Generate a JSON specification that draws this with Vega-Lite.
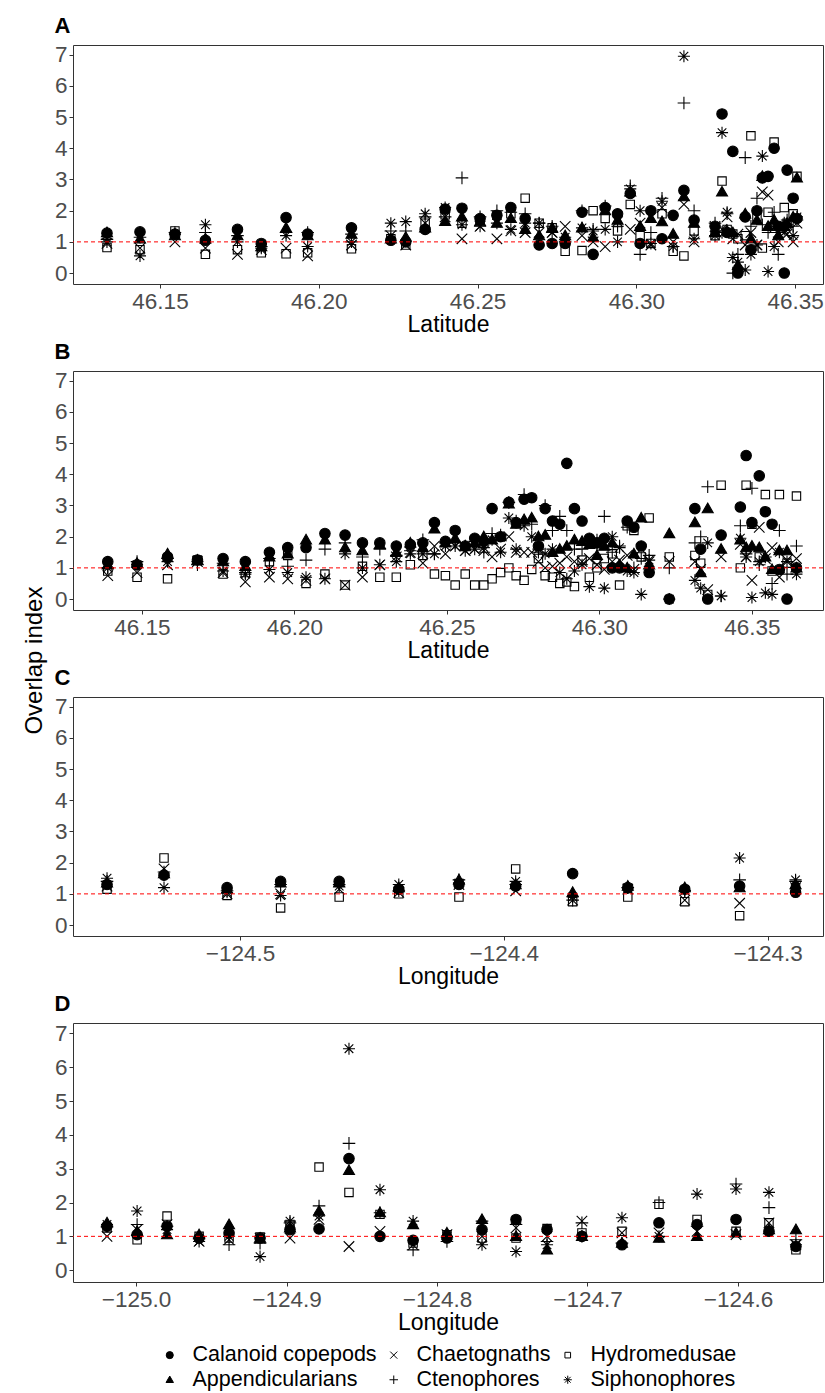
{
"$schema":"https://vega.github.io/schema/vega-lite/v6.json",
"padding":{"left":22,"top":14,"right":2,"bottom":0},
"title":{"text":"Overlap index","orient":"left","anchor":"middle","fontSize":24,"fontWeight":"normal","color":"black","offset":7,"dx":42},
"spacing":3,
"datasets":{
"taxa":[{"k":"C","name":"Calanoid copepods"},{"k":"A","name":"Appendicularians"},{"k":"X","name":"Chaetognaths"},{"k":"P","name":"Ctenophores"},{"k":"H","name":"Hydromedusae"},{"k":"S","name":"Siphonophores"}],
"A":[
{"x":46.1333,"t":"C","y":1.28},{"x":46.1333,"t":"A","y":1.3},{"x":46.1333,"t":"X","y":0.95},{"x":46.1333,"t":"P","y":1.08},{"x":46.1333,"t":"H","y":0.82},{"x":46.1333,"t":"S","y":1.0},
{"x":46.1437,"t":"C","y":1.32},{"x":46.1437,"t":"A","y":1.1},{"x":46.1437,"t":"X","y":0.8},{"x":46.1437,"t":"P","y":1.15},{"x":46.1437,"t":"H","y":0.75},{"x":46.1437,"t":"S","y":0.55},
{"x":46.1547,"t":"C","y":1.25},{"x":46.1547,"t":"A","y":1.2},{"x":46.1547,"t":"X","y":1.0},{"x":46.1547,"t":"P","y":1.3},{"x":46.1547,"t":"H","y":1.35},{"x":46.1547,"t":"S","y":1.25},
{"x":46.1643,"t":"C","y":1.05},{"x":46.1643,"t":"A","y":1.1},{"x":46.1643,"t":"X","y":0.8},{"x":46.1643,"t":"P","y":1.3},{"x":46.1643,"t":"H","y":0.6},{"x":46.1643,"t":"S","y":1.55},
{"x":46.1744,"t":"C","y":1.4},{"x":46.1744,"t":"A","y":1.2},{"x":46.1744,"t":"X","y":0.6},{"x":46.1744,"t":"P","y":1.2},{"x":46.1744,"t":"H","y":0.75},{"x":46.1744,"t":"S","y":1.0},
{"x":46.1819,"t":"C","y":0.95},{"x":46.1819,"t":"A","y":0.85},{"x":46.1819,"t":"X","y":0.75},{"x":46.1819,"t":"P","y":0.85},{"x":46.1819,"t":"H","y":0.65},{"x":46.1819,"t":"S","y":0.8},
{"x":46.1897,"t":"C","y":1.78},{"x":46.1897,"t":"A","y":1.45},{"x":46.1897,"t":"X","y":0.8},{"x":46.1897,"t":"P","y":1.3},{"x":46.1897,"t":"H","y":0.62},{"x":46.1897,"t":"S","y":1.2},
{"x":46.1965,"t":"C","y":1.25},{"x":46.1965,"t":"A","y":1.2},{"x":46.1965,"t":"X","y":0.55},{"x":46.1965,"t":"P","y":1.3},{"x":46.1965,"t":"H","y":0.65},{"x":46.1965,"t":"S","y":0.85},
{"x":46.2103,"t":"C","y":1.45},{"x":46.2103,"t":"A","y":1.25},{"x":46.2103,"t":"X","y":0.9},{"x":46.2103,"t":"P","y":1.25},{"x":46.2103,"t":"H","y":0.78},{"x":46.2103,"t":"S","y":1.0},
{"x":46.2227,"t":"C","y":1.05},{"x":46.2227,"t":"A","y":1.1},{"x":46.2227,"t":"X","y":1.2},{"x":46.2227,"t":"P","y":1.35},{"x":46.2227,"t":"H","y":1.1},{"x":46.2227,"t":"S","y":1.6},
{"x":46.2274,"t":"C","y":1.0},{"x":46.2274,"t":"A","y":1.15},{"x":46.2274,"t":"X","y":0.9},{"x":46.2274,"t":"P","y":1.35},{"x":46.2274,"t":"H","y":0.9},{"x":46.2274,"t":"S","y":1.65},
{"x":46.2335,"t":"C","y":1.4},{"x":46.2335,"t":"A","y":1.45},{"x":46.2335,"t":"X","y":1.6},{"x":46.2335,"t":"P","y":1.8},{"x":46.2335,"t":"H","y":1.6},{"x":46.2335,"t":"S","y":1.9},
{"x":46.2398,"t":"C","y":2.05},{"x":46.2398,"t":"A","y":1.66},{"x":46.2398,"t":"X","y":1.8},{"x":46.2398,"t":"P","y":1.8},{"x":46.2398,"t":"H","y":1.87},{"x":46.2398,"t":"S","y":2.1},
{"x":46.2451,"t":"C","y":2.08},{"x":46.2451,"t":"A","y":1.8},{"x":46.2451,"t":"X","y":1.1},{"x":46.2451,"t":"P","y":3.05},{"x":46.2451,"t":"H","y":1.6},{"x":46.2451,"t":"S","y":1.55},
{"x":46.2508,"t":"C","y":1.75},{"x":46.2508,"t":"A","y":1.65},{"x":46.2508,"t":"X","y":1.5},{"x":46.2508,"t":"P","y":1.8},{"x":46.2508,"t":"H","y":1.7},{"x":46.2508,"t":"S","y":1.5},
{"x":46.2561,"t":"C","y":1.85},{"x":46.2561,"t":"A","y":1.6},{"x":46.2561,"t":"X","y":1.1},{"x":46.2561,"t":"P","y":2.0},{"x":46.2561,"t":"H","y":1.85},{"x":46.2561,"t":"S","y":1.6},
{"x":46.2605,"t":"C","y":2.1},{"x":46.2605,"t":"A","y":1.75},{"x":46.2605,"t":"X","y":1.35},{"x":46.2605,"t":"P","y":1.95},{"x":46.2605,"t":"H","y":1.9},{"x":46.2605,"t":"S","y":1.4},
{"x":46.265,"t":"C","y":1.75},{"x":46.265,"t":"A","y":1.4},{"x":46.265,"t":"X","y":1.3},{"x":46.265,"t":"P","y":1.9},{"x":46.265,"t":"H","y":2.4},{"x":46.265,"t":"S","y":1.6},
{"x":46.2694,"t":"C","y":0.9},{"x":46.2694,"t":"A","y":1.2},{"x":46.2694,"t":"X","y":1.3},{"x":46.2694,"t":"P","y":1.6},{"x":46.2694,"t":"H","y":1.6},{"x":46.2694,"t":"S","y":1.6},
{"x":46.2735,"t":"C","y":0.95},{"x":46.2735,"t":"A","y":1.45},{"x":46.2735,"t":"X","y":1.3},{"x":46.2735,"t":"P","y":1.5},{"x":46.2735,"t":"H","y":1.45},{"x":46.2735,"t":"S","y":1.3},
{"x":46.2776,"t":"C","y":0.95},{"x":46.2776,"t":"A","y":1.2},{"x":46.2776,"t":"X","y":1.5},{"x":46.2776,"t":"P","y":1.0},{"x":46.2776,"t":"H","y":0.7},{"x":46.2776,"t":"S","y":1.15},
{"x":46.2829,"t":"C","y":1.95},{"x":46.2829,"t":"A","y":1.45},{"x":46.2829,"t":"X","y":1.2},{"x":46.2829,"t":"P","y":2.0},{"x":46.2829,"t":"H","y":0.72},{"x":46.2829,"t":"S","y":1.45},
{"x":46.2864,"t":"C","y":0.6},{"x":46.2864,"t":"A","y":1.15},{"x":46.2864,"t":"X","y":1.0},{"x":46.2864,"t":"P","y":1.4},{"x":46.2864,"t":"H","y":2.0},{"x":46.2864,"t":"S","y":1.35},
{"x":46.2902,"t":"C","y":2.1},{"x":46.2902,"t":"A","y":2.0},{"x":46.2902,"t":"X","y":0.85},{"x":46.2902,"t":"P","y":2.15},{"x":46.2902,"t":"H","y":1.75},{"x":46.2902,"t":"S","y":1.4},
{"x":46.2941,"t":"C","y":1.9},{"x":46.2941,"t":"A","y":1.7},{"x":46.2941,"t":"X","y":1.65},{"x":46.2941,"t":"P","y":1.5},{"x":46.2941,"t":"H","y":1.35},{"x":46.2941,"t":"S","y":1.0},
{"x":46.2981,"t":"C","y":2.55},{"x":46.2981,"t":"A","y":2.6},{"x":46.2981,"t":"X","y":1.4},{"x":46.2981,"t":"P","y":2.8},{"x":46.2981,"t":"H","y":2.2},{"x":46.2981,"t":"S","y":2.7},
{"x":46.3012,"t":"C","y":0.95},{"x":46.3012,"t":"A","y":1.5},{"x":46.3012,"t":"X","y":1.6},{"x":46.3012,"t":"P","y":0.6},{"x":46.3012,"t":"H","y":1.2},{"x":46.3012,"t":"S","y":2.0},
{"x":46.3046,"t":"C","y":2.0},{"x":46.3046,"t":"A","y":1.75},{"x":46.3046,"t":"X","y":0.9},{"x":46.3046,"t":"P","y":1.3},{"x":46.3046,"t":"H","y":0.95},{"x":46.3046,"t":"S","y":0.95},
{"x":46.3081,"t":"C","y":1.1},{"x":46.3081,"t":"A","y":1.65},{"x":46.3081,"t":"X","y":2.1},{"x":46.3081,"t":"P","y":2.4},{"x":46.3081,"t":"H","y":1.9},{"x":46.3081,"t":"S","y":2.3},
{"x":46.3116,"t":"C","y":1.85},{"x":46.3116,"t":"A","y":1.25},{"x":46.3116,"t":"X","y":1.0},{"x":46.3116,"t":"P","y":0.85},{"x":46.3116,"t":"H","y":0.7},{"x":46.3116,"t":"S","y":0.85},
{"x":46.315,"t":"C","y":2.65},{"x":46.315,"t":"A","y":2.45},{"x":46.315,"t":"X","y":2.2},{"x":46.315,"t":"P","y":5.45},{"x":46.315,"t":"H","y":0.55},{"x":46.315,"t":"S","y":6.95},
{"x":46.3182,"t":"C","y":1.7},{"x":46.3182,"t":"A","y":1.6},{"x":46.3182,"t":"X","y":1.0},{"x":46.3182,"t":"P","y":2.0},{"x":46.3182,"t":"H","y":1.35},{"x":46.3182,"t":"S","y":1.1},
{"x":46.3248,"t":"C","y":1.5},{"x":46.3248,"t":"A","y":1.3},{"x":46.3248,"t":"X","y":1.5},{"x":46.3248,"t":"P","y":1.6},{"x":46.3248,"t":"H","y":1.2},{"x":46.3248,"t":"S","y":1.2},
{"x":46.327,"t":"C","y":5.1},{"x":46.327,"t":"A","y":2.6},{"x":46.327,"t":"X","y":1.4},{"x":46.327,"t":"P","y":1.3},{"x":46.327,"t":"H","y":2.95},{"x":46.327,"t":"S","y":4.5},
{"x":46.3286,"t":"C","y":1.3},{"x":46.3286,"t":"A","y":1.35},{"x":46.3286,"t":"X","y":1.8},{"x":46.3286,"t":"P","y":1.9},{"x":46.3286,"t":"H","y":1.4},{"x":46.3286,"t":"S","y":1.95},
{"x":46.3304,"t":"C","y":3.9},{"x":46.3304,"t":"A","y":1.3},{"x":46.3304,"t":"X","y":1.1},{"x":46.3304,"t":"P","y":0.0},{"x":46.3304,"t":"H","y":1.25},{"x":46.3304,"t":"S","y":0.5},
{"x":46.332,"t":"C","y":0.0},{"x":46.332,"t":"A","y":0.25},{"x":46.332,"t":"X","y":1.25},{"x":46.332,"t":"P","y":0.6},{"x":46.332,"t":"H","y":1.1},{"x":46.332,"t":"S","y":0.35},
{"x":46.3343,"t":"C","y":1.8},{"x":46.3343,"t":"A","y":1.9},{"x":46.3343,"t":"X","y":0.9},{"x":46.3343,"t":"P","y":3.7},{"x":46.3343,"t":"H","y":1.2},{"x":46.3343,"t":"S","y":0.1},
{"x":46.3361,"t":"C","y":0.75},{"x":46.3361,"t":"A","y":1.1},{"x":46.3361,"t":"X","y":1.3},{"x":46.3361,"t":"P","y":1.5},{"x":46.3361,"t":"H","y":4.4},{"x":46.3361,"t":"S","y":0.6},
{"x":46.338,"t":"C","y":2.0},{"x":46.338,"t":"A","y":1.7},{"x":46.338,"t":"X","y":0.9},{"x":46.338,"t":"P","y":2.4},{"x":46.338,"t":"H","y":1.8},{"x":46.338,"t":"S","y":0.9},
{"x":46.3397,"t":"C","y":3.05},{"x":46.3397,"t":"A","y":3.1},{"x":46.3397,"t":"X","y":2.6},{"x":46.3397,"t":"P","y":1.55},{"x":46.3397,"t":"H","y":0.8},{"x":46.3397,"t":"S","y":3.75},
{"x":46.3415,"t":"C","y":3.1},{"x":46.3415,"t":"A","y":1.5},{"x":46.3415,"t":"X","y":2.5},{"x":46.3415,"t":"P","y":1.3},{"x":46.3415,"t":"H","y":1.95},{"x":46.3415,"t":"S","y":0.05},
{"x":46.3434,"t":"C","y":4.0},{"x":46.3434,"t":"A","y":1.7},{"x":46.3434,"t":"X","y":1.45},{"x":46.3434,"t":"P","y":1.95},{"x":46.3434,"t":"H","y":4.2},{"x":46.3434,"t":"S","y":0.85},
{"x":46.3447,"t":"C","y":1.5},{"x":46.3447,"t":"A","y":1.2},{"x":46.3447,"t":"X","y":1.0},{"x":46.3447,"t":"P","y":0.6},{"x":46.3447,"t":"H","y":1.5},{"x":46.3447,"t":"S","y":1.3},
{"x":46.3466,"t":"C","y":0.0},{"x":46.3466,"t":"A","y":1.5},{"x":46.3466,"t":"X","y":1.3},{"x":46.3466,"t":"P","y":1.6},{"x":46.3466,"t":"H","y":2.1},{"x":46.3466,"t":"S","y":1.4},
{"x":46.3475,"t":"C","y":3.3},{"x":46.3475,"t":"A","y":1.6},{"x":46.3475,"t":"X","y":1.25},{"x":46.3475,"t":"P","y":1.7},{"x":46.3475,"t":"H","y":1.6},{"x":46.3475,"t":"S","y":1.55},
{"x":46.3494,"t":"C","y":2.4},{"x":46.3494,"t":"A","y":1.8},{"x":46.3494,"t":"X","y":1.0},{"x":46.3494,"t":"P","y":1.5},{"x":46.3494,"t":"H","y":1.9},{"x":46.3494,"t":"S","y":1.2},
{"x":46.3506,"t":"C","y":1.75},{"x":46.3506,"t":"A","y":3.05},{"x":46.3506,"t":"X","y":1.6},{"x":46.3506,"t":"P","y":1.7},{"x":46.3506,"t":"H","y":3.1},{"x":46.3506,"t":"S","y":1.8}
],
"B":[
{"x":46.1388,"t":"C","y":1.2},{"x":46.1388,"t":"A","y":1.1},{"x":46.1388,"t":"X","y":0.75},{"x":46.1388,"t":"P","y":1.0},{"x":46.1388,"t":"H","y":0.9},{"x":46.1388,"t":"S","y":1.0},
{"x":46.1484,"t":"C","y":1.1},{"x":46.1484,"t":"A","y":1.15},{"x":46.1484,"t":"X","y":0.85},{"x":46.1484,"t":"P","y":1.2},{"x":46.1484,"t":"H","y":0.7},{"x":46.1484,"t":"S","y":1.1},
{"x":46.1584,"t":"C","y":1.35},{"x":46.1584,"t":"A","y":1.45},{"x":46.1584,"t":"X","y":1.1},{"x":46.1584,"t":"P","y":1.3},{"x":46.1584,"t":"H","y":0.65},{"x":46.1584,"t":"S","y":1.2},
{"x":46.1682,"t":"C","y":1.25},{"x":46.1682,"t":"A","y":1.25},{"x":46.1682,"t":"X","y":1.2},{"x":46.1682,"t":"P","y":1.1},{"x":46.1682,"t":"H","y":1.25},{"x":46.1682,"t":"S","y":1.2},
{"x":46.1766,"t":"C","y":1.3},{"x":46.1766,"t":"A","y":1.2},{"x":46.1766,"t":"X","y":0.85},{"x":46.1766,"t":"P","y":1.15},{"x":46.1766,"t":"H","y":0.8},{"x":46.1766,"t":"S","y":0.9},
{"x":46.1839,"t":"C","y":1.2},{"x":46.1839,"t":"A","y":1.05},{"x":46.1839,"t":"X","y":0.55},{"x":46.1839,"t":"P","y":0.85},{"x":46.1839,"t":"H","y":0.85},{"x":46.1839,"t":"S","y":0.8},
{"x":46.1918,"t":"C","y":1.5},{"x":46.1918,"t":"A","y":1.35},{"x":46.1918,"t":"X","y":0.7},{"x":46.1918,"t":"P","y":1.3},{"x":46.1918,"t":"H","y":1.2},{"x":46.1918,"t":"S","y":0.95},
{"x":46.1978,"t":"C","y":1.65},{"x":46.1978,"t":"A","y":1.45},{"x":46.1978,"t":"X","y":0.65},{"x":46.1978,"t":"P","y":1.05},{"x":46.1978,"t":"H","y":1.4},{"x":46.1978,"t":"S","y":0.85},
{"x":46.2038,"t":"C","y":1.65},{"x":46.2038,"t":"A","y":1.9},{"x":46.2038,"t":"X","y":0.6},{"x":46.2038,"t":"P","y":1.25},{"x":46.2038,"t":"H","y":0.5},{"x":46.2038,"t":"S","y":0.7},
{"x":46.21,"t":"C","y":2.1},{"x":46.21,"t":"A","y":1.9},{"x":46.21,"t":"X","y":0.65},{"x":46.21,"t":"P","y":1.6},{"x":46.21,"t":"H","y":0.8},{"x":46.21,"t":"S","y":0.65},
{"x":46.2166,"t":"C","y":2.05},{"x":46.2166,"t":"A","y":1.65},{"x":46.2166,"t":"X","y":0.45},{"x":46.2166,"t":"P","y":1.8},{"x":46.2166,"t":"H","y":0.45},{"x":46.2166,"t":"S","y":1.45},
{"x":46.2223,"t":"C","y":1.8},{"x":46.2223,"t":"A","y":1.55},{"x":46.2223,"t":"X","y":0.7},{"x":46.2223,"t":"P","y":1.35},{"x":46.2223,"t":"H","y":1.05},{"x":46.2223,"t":"S","y":1.0},
{"x":46.228,"t":"C","y":1.8},{"x":46.228,"t":"A","y":1.75},{"x":46.228,"t":"X","y":1.1},{"x":46.228,"t":"P","y":1.6},{"x":46.228,"t":"H","y":0.7},{"x":46.228,"t":"S","y":1.1},
{"x":46.2334,"t":"C","y":1.7},{"x":46.2334,"t":"A","y":1.5},{"x":46.2334,"t":"X","y":1.35},{"x":46.2334,"t":"P","y":1.4},{"x":46.2334,"t":"H","y":0.7},{"x":46.2334,"t":"S","y":1.2},
{"x":46.238,"t":"C","y":1.75},{"x":46.238,"t":"A","y":1.8},{"x":46.238,"t":"X","y":1.5},{"x":46.238,"t":"P","y":1.55},{"x":46.238,"t":"H","y":1.1},{"x":46.238,"t":"S","y":1.45},
{"x":46.2421,"t":"C","y":1.8},{"x":46.2421,"t":"A","y":1.65},{"x":46.2421,"t":"X","y":1.15},{"x":46.2421,"t":"P","y":1.9},{"x":46.2421,"t":"H","y":1.4},{"x":46.2421,"t":"S","y":1.45},
{"x":46.2459,"t":"C","y":2.45},{"x":46.2459,"t":"A","y":2.25},{"x":46.2459,"t":"X","y":1.7},{"x":46.2459,"t":"P","y":1.45},{"x":46.2459,"t":"H","y":0.8},{"x":46.2459,"t":"S","y":1.45},
{"x":46.2495,"t":"C","y":1.85},{"x":46.2495,"t":"A","y":1.8},{"x":46.2495,"t":"X","y":1.45},{"x":46.2495,"t":"P","y":1.8},{"x":46.2495,"t":"H","y":0.75},{"x":46.2495,"t":"S","y":1.7},
{"x":46.2527,"t":"C","y":2.2},{"x":46.2527,"t":"A","y":1.95},{"x":46.2527,"t":"X","y":1.7},{"x":46.2527,"t":"P","y":1.8},{"x":46.2527,"t":"H","y":0.45},{"x":46.2527,"t":"S","y":1.7},
{"x":46.256,"t":"C","y":1.7},{"x":46.256,"t":"A","y":1.7},{"x":46.256,"t":"X","y":1.55},{"x":46.256,"t":"P","y":1.7},{"x":46.256,"t":"H","y":0.8},{"x":46.256,"t":"S","y":1.55},
{"x":46.2591,"t":"C","y":1.95},{"x":46.2591,"t":"A","y":1.8},{"x":46.2591,"t":"X","y":1.6},{"x":46.2591,"t":"P","y":1.85},{"x":46.2591,"t":"H","y":0.45},{"x":46.2591,"t":"S","y":1.6},
{"x":46.2621,"t":"C","y":1.85},{"x":46.2621,"t":"A","y":2.0},{"x":46.2621,"t":"X","y":1.55},{"x":46.2621,"t":"P","y":1.5},{"x":46.2621,"t":"H","y":0.45},{"x":46.2621,"t":"S","y":1.65},
{"x":46.2648,"t":"C","y":2.9},{"x":46.2648,"t":"A","y":1.9},{"x":46.2648,"t":"X","y":1.35},{"x":46.2648,"t":"P","y":2.1},{"x":46.2648,"t":"H","y":0.65},{"x":46.2648,"t":"S","y":1.9},
{"x":46.2676,"t":"C","y":2.0},{"x":46.2676,"t":"A","y":2.0},{"x":46.2676,"t":"X","y":1.6},{"x":46.2676,"t":"P","y":2.05},{"x":46.2676,"t":"H","y":0.85},{"x":46.2676,"t":"S","y":1.5},
{"x":46.2703,"t":"C","y":3.1},{"x":46.2703,"t":"A","y":3.05},{"x":46.2703,"t":"X","y":2.0},{"x":46.2703,"t":"P","y":3.1},{"x":46.2703,"t":"H","y":1.0},{"x":46.2703,"t":"S","y":2.6},
{"x":46.2727,"t":"C","y":2.45},{"x":46.2727,"t":"A","y":2.4},{"x":46.2727,"t":"X","y":1.5},{"x":46.2727,"t":"P","y":2.5},{"x":46.2727,"t":"H","y":0.75},{"x":46.2727,"t":"S","y":1.6},
{"x":46.2753,"t":"C","y":3.2},{"x":46.2753,"t":"A","y":2.55},{"x":46.2753,"t":"X","y":1.5},{"x":46.2753,"t":"P","y":3.35},{"x":46.2753,"t":"H","y":0.6},{"x":46.2753,"t":"S","y":2.35},
{"x":46.2778,"t":"C","y":3.25},{"x":46.2778,"t":"A","y":2.6},{"x":46.2778,"t":"X","y":1.5},{"x":46.2778,"t":"P","y":2.4},{"x":46.2778,"t":"H","y":0.95},{"x":46.2778,"t":"S","y":2.0},
{"x":46.28,"t":"C","y":1.7},{"x":46.28,"t":"A","y":2.0},{"x":46.28,"t":"X","y":1.2},{"x":46.28,"t":"P","y":1.5},{"x":46.28,"t":"H","y":1.3},{"x":46.28,"t":"S","y":1.6},
{"x":46.2822,"t":"C","y":2.9},{"x":46.2822,"t":"A","y":2.05},{"x":46.2822,"t":"X","y":1.0},{"x":46.2822,"t":"P","y":3.0},{"x":46.2822,"t":"H","y":0.75},{"x":46.2822,"t":"S","y":1.45},
{"x":46.2846,"t":"C","y":2.5},{"x":46.2846,"t":"A","y":1.5},{"x":46.2846,"t":"X","y":1.05},{"x":46.2846,"t":"P","y":2.2},{"x":46.2846,"t":"H","y":0.7},{"x":46.2846,"t":"S","y":1.6},
{"x":46.287,"t":"C","y":2.4},{"x":46.287,"t":"A","y":1.6},{"x":46.287,"t":"X","y":1.15},{"x":46.287,"t":"P","y":2.65},{"x":46.287,"t":"H","y":0.5},{"x":46.287,"t":"S","y":0.85},
{"x":46.2893,"t":"C","y":4.35},{"x":46.2893,"t":"A","y":1.7},{"x":46.2893,"t":"X","y":1.35},{"x":46.2893,"t":"P","y":2.2},{"x":46.2893,"t":"H","y":0.55},{"x":46.2893,"t":"S","y":0.65},
{"x":46.2918,"t":"C","y":2.9},{"x":46.2918,"t":"A","y":1.9},{"x":46.2918,"t":"X","y":1.2},{"x":46.2918,"t":"P","y":1.6},{"x":46.2918,"t":"H","y":0.4},{"x":46.2918,"t":"S","y":0.9},
{"x":46.2943,"t":"C","y":2.5},{"x":46.2943,"t":"A","y":1.85},{"x":46.2943,"t":"X","y":1.2},{"x":46.2943,"t":"P","y":1.6},{"x":46.2943,"t":"H","y":1.25},{"x":46.2943,"t":"S","y":1.1},
{"x":46.2967,"t":"C","y":1.95},{"x":46.2967,"t":"A","y":1.75},{"x":46.2967,"t":"X","y":1.3},{"x":46.2967,"t":"P","y":1.9},{"x":46.2967,"t":"H","y":0.7},{"x":46.2967,"t":"S","y":0.4},
{"x":46.2992,"t":"C","y":1.8},{"x":46.2992,"t":"A","y":1.4},{"x":46.2992,"t":"X","y":1.1},{"x":46.2992,"t":"P","y":1.7},{"x":46.2992,"t":"H","y":1.0},{"x":46.2992,"t":"S","y":1.9},
{"x":46.3016,"t":"C","y":1.95},{"x":46.3016,"t":"A","y":1.7},{"x":46.3016,"t":"X","y":0.95},{"x":46.3016,"t":"P","y":2.65},{"x":46.3016,"t":"H","y":1.3},{"x":46.3016,"t":"S","y":0.35},
{"x":46.3042,"t":"C","y":1.0},{"x":46.3042,"t":"A","y":1.8},{"x":46.3042,"t":"X","y":1.2},{"x":46.3042,"t":"P","y":1.5},{"x":46.3042,"t":"H","y":1.45},{"x":46.3042,"t":"S","y":2.0},
{"x":46.3066,"t":"C","y":1.0},{"x":46.3066,"t":"A","y":1.1},{"x":46.3066,"t":"X","y":1.25},{"x":46.3066,"t":"P","y":1.7},{"x":46.3066,"t":"H","y":0.45},{"x":46.3066,"t":"S","y":1.65},
{"x":46.3091,"t":"C","y":2.5},{"x":46.3091,"t":"A","y":1.0},{"x":46.3091,"t":"X","y":1.4},{"x":46.3091,"t":"P","y":2.3},{"x":46.3091,"t":"H","y":2.35},{"x":46.3091,"t":"S","y":0.9},
{"x":46.3113,"t":"C","y":2.3},{"x":46.3113,"t":"A","y":1.45},{"x":46.3113,"t":"X","y":0.95},{"x":46.3113,"t":"P","y":1.0},{"x":46.3113,"t":"H","y":2.2},{"x":46.3113,"t":"S","y":0.85},
{"x":46.3137,"t":"C","y":1.7},{"x":46.3137,"t":"A","y":2.6},{"x":46.3137,"t":"X","y":1.6},{"x":46.3137,"t":"P","y":1.3},{"x":46.3137,"t":"H","y":1.35},{"x":46.3137,"t":"S","y":0.15},
{"x":46.3163,"t":"C","y":0.85},{"x":46.3163,"t":"A","y":1.1},{"x":46.3163,"t":"X","y":1.2},{"x":46.3163,"t":"P","y":1.4},{"x":46.3163,"t":"H","y":2.6},{"x":46.3163,"t":"S","y":1.25},
{"x":46.3229,"t":"C","y":0.0},{"x":46.3229,"t":"A","y":2.1},{"x":46.3229,"t":"X","y":1.2},{"x":46.3229,"t":"P","y":1.0},{"x":46.3229,"t":"H","y":1.35},{"x":46.3229,"t":"S","y":0.0},
{"x":46.3313,"t":"C","y":2.9},{"x":46.3313,"t":"A","y":2.45},{"x":46.3313,"t":"X","y":1.2},{"x":46.3313,"t":"P","y":1.8},{"x":46.3313,"t":"H","y":1.4},{"x":46.3313,"t":"S","y":0.6},
{"x":46.3332,"t":"C","y":1.6},{"x":46.3332,"t":"A","y":0.85},{"x":46.3332,"t":"X","y":0.95},{"x":46.3332,"t":"P","y":2.0},{"x":46.3332,"t":"H","y":1.15},{"x":46.3332,"t":"S","y":0.35},
{"x":46.3355,"t":"C","y":0.0},{"x":46.3355,"t":"A","y":2.9},{"x":46.3355,"t":"X","y":0.3},{"x":46.3355,"t":"P","y":3.6},{"x":46.3355,"t":"H","y":0.15},{"x":46.3355,"t":"S","y":1.8},
{"x":46.3399,"t":"C","y":2.05},{"x":46.3399,"t":"A","y":1.6},{"x":46.3399,"t":"X","y":1.35},{"x":46.3399,"t":"P","y":0.1},{"x":46.3399,"t":"H","y":3.65},{"x":46.3399,"t":"S","y":0.1},
{"x":46.3462,"t":"C","y":2.95},{"x":46.3462,"t":"A","y":1.9},{"x":46.3462,"t":"X","y":1.75},{"x":46.3462,"t":"P","y":2.35},{"x":46.3462,"t":"H","y":1.0},{"x":46.3462,"t":"S","y":1.95},
{"x":46.3481,"t":"C","y":4.6},{"x":46.3481,"t":"A","y":1.65},{"x":46.3481,"t":"X","y":1.35},{"x":46.3481,"t":"P","y":1.45},{"x":46.3481,"t":"H","y":3.65},{"x":46.3481,"t":"S","y":1.35},
{"x":46.35,"t":"C","y":2.45},{"x":46.35,"t":"A","y":1.7},{"x":46.35,"t":"X","y":0.6},{"x":46.35,"t":"P","y":3.55},{"x":46.35,"t":"H","y":2.4},{"x":46.35,"t":"S","y":0.05},
{"x":46.3524,"t":"C","y":3.95},{"x":46.3524,"t":"A","y":1.65},{"x":46.3524,"t":"X","y":2.3},{"x":46.3524,"t":"P","y":1.1},{"x":46.3524,"t":"H","y":1.35},{"x":46.3524,"t":"S","y":1.2},
{"x":46.3544,"t":"C","y":2.8},{"x":46.3544,"t":"A","y":1.35},{"x":46.3544,"t":"X","y":1.3},{"x":46.3544,"t":"P","y":1.35},{"x":46.3544,"t":"H","y":3.35},{"x":46.3544,"t":"S","y":0.2},
{"x":46.3566,"t":"C","y":2.4},{"x":46.3566,"t":"A","y":0.95},{"x":46.3566,"t":"X","y":1.65},{"x":46.3566,"t":"P","y":0.5},{"x":46.3566,"t":"H","y":0.9},{"x":46.3566,"t":"S","y":0.15},
{"x":46.359,"t":"C","y":0.95},{"x":46.359,"t":"A","y":1.55},{"x":46.359,"t":"X","y":0.7},{"x":46.359,"t":"P","y":2.2},{"x":46.359,"t":"H","y":3.35},{"x":46.359,"t":"S","y":1.5},
{"x":46.3615,"t":"C","y":0.0},{"x":46.3615,"t":"A","y":1.55},{"x":46.3615,"t":"X","y":1.25},{"x":46.3615,"t":"P","y":0.8},{"x":46.3615,"t":"H","y":1.15},{"x":46.3615,"t":"S","y":1.2},
{"x":46.3646,"t":"C","y":1.0},{"x":46.3646,"t":"A","y":1.0},{"x":46.3646,"t":"X","y":1.3},{"x":46.3646,"t":"P","y":1.7},{"x":46.3646,"t":"H","y":3.3},{"x":46.3646,"t":"S","y":0.8}
],
"C":[
{"x":-124.5504,"t":"C","y":1.3},{"x":-124.5504,"t":"A","y":1.35},{"x":-124.5504,"t":"X","y":1.25},{"x":-124.5504,"t":"P","y":1.4},{"x":-124.5504,"t":"H","y":1.15},{"x":-124.5504,"t":"S","y":1.5},
{"x":-124.5288,"t":"C","y":1.6},{"x":-124.5288,"t":"A","y":1.65},{"x":-124.5288,"t":"X","y":1.8},{"x":-124.5288,"t":"P","y":1.7},{"x":-124.5288,"t":"H","y":2.15},{"x":-124.5288,"t":"S","y":1.2},
{"x":-124.5049,"t":"C","y":1.2},{"x":-124.5049,"t":"A","y":1.15},{"x":-124.5049,"t":"X","y":1.0},{"x":-124.5049,"t":"P","y":1.1},{"x":-124.5049,"t":"H","y":0.95},{"x":-124.5049,"t":"S","y":1.05},
{"x":-124.4846,"t":"C","y":1.4},{"x":-124.4846,"t":"A","y":1.35},{"x":-124.4846,"t":"X","y":1.0},{"x":-124.4846,"t":"P","y":1.3},{"x":-124.4846,"t":"H","y":0.55},{"x":-124.4846,"t":"S","y":0.95},
{"x":-124.4624,"t":"C","y":1.4},{"x":-124.4624,"t":"A","y":1.35},{"x":-124.4624,"t":"X","y":1.15},{"x":-124.4624,"t":"P","y":1.3},{"x":-124.4624,"t":"H","y":0.9},{"x":-124.4624,"t":"S","y":1.25},
{"x":-124.4398,"t":"C","y":1.15},{"x":-124.4398,"t":"A","y":1.2},{"x":-124.4398,"t":"X","y":1.05},{"x":-124.4398,"t":"P","y":1.1},{"x":-124.4398,"t":"H","y":1.0},{"x":-124.4398,"t":"S","y":1.3},
{"x":-124.417,"t":"C","y":1.3},{"x":-124.417,"t":"A","y":1.45},{"x":-124.417,"t":"X","y":1.3},{"x":-124.417,"t":"P","y":1.45},{"x":-124.417,"t":"H","y":0.9},{"x":-124.417,"t":"S","y":1.35},
{"x":-124.3955,"t":"C","y":1.25},{"x":-124.3955,"t":"A","y":1.3},{"x":-124.3955,"t":"X","y":1.1},{"x":-124.3955,"t":"P","y":1.3},{"x":-124.3955,"t":"H","y":1.8},{"x":-124.3955,"t":"S","y":1.4},
{"x":-124.3739,"t":"C","y":1.65},{"x":-124.3739,"t":"A","y":1.05},{"x":-124.3739,"t":"X","y":0.8},{"x":-124.3739,"t":"P","y":0.8},{"x":-124.3739,"t":"H","y":0.75},{"x":-124.3739,"t":"S","y":0.9},
{"x":-124.353,"t":"C","y":1.2},{"x":-124.353,"t":"A","y":1.25},{"x":-124.353,"t":"X","y":1.15},{"x":-124.353,"t":"P","y":1.2},{"x":-124.353,"t":"H","y":0.9},{"x":-124.353,"t":"S","y":1.2},
{"x":-124.3314,"t":"C","y":1.15},{"x":-124.3314,"t":"A","y":1.2},{"x":-124.3314,"t":"X","y":0.8},{"x":-124.3314,"t":"P","y":1.1},{"x":-124.3314,"t":"H","y":0.75},{"x":-124.3314,"t":"S","y":1.1},
{"x":-124.3106,"t":"C","y":1.25},{"x":-124.3106,"t":"A","y":1.2},{"x":-124.3106,"t":"X","y":0.7},{"x":-124.3106,"t":"P","y":1.45},{"x":-124.3106,"t":"H","y":0.3},{"x":-124.3106,"t":"S","y":2.15},
{"x":-124.2894,"t":"C","y":1.05},{"x":-124.2894,"t":"A","y":1.3},{"x":-124.2894,"t":"X","y":1.2},{"x":-124.2894,"t":"P","y":1.4},{"x":-124.2894,"t":"H","y":1.2},{"x":-124.2894,"t":"S","y":1.45}
],
"D":[
{"x":-125.0193,"t":"C","y":1.3},{"x":-125.0193,"t":"A","y":1.4},{"x":-125.0193,"t":"X","y":1.0},{"x":-125.0193,"t":"P","y":1.3},{"x":-125.0193,"t":"H","y":1.25},{"x":-125.0193,"t":"S","y":1.35},
{"x":-124.9993,"t":"C","y":1.05},{"x":-124.9993,"t":"A","y":1.15},{"x":-124.9993,"t":"X","y":1.2},{"x":-124.9993,"t":"P","y":1.35},{"x":-124.9993,"t":"H","y":0.9},{"x":-124.9993,"t":"S","y":1.75},
{"x":-124.9794,"t":"C","y":1.3},{"x":-124.9794,"t":"A","y":1.05},{"x":-124.9794,"t":"X","y":1.35},{"x":-124.9794,"t":"P","y":1.3},{"x":-124.9794,"t":"H","y":1.6},{"x":-124.9794,"t":"S","y":1.2},
{"x":-124.9581,"t":"C","y":0.95},{"x":-124.9581,"t":"A","y":1.05},{"x":-124.9581,"t":"X","y":0.85},{"x":-124.9581,"t":"P","y":0.95},{"x":-124.9581,"t":"H","y":1.0},{"x":-124.9581,"t":"S","y":0.85},
{"x":-124.9382,"t":"C","y":1.1},{"x":-124.9382,"t":"A","y":1.35},{"x":-124.9382,"t":"X","y":0.9},{"x":-124.9382,"t":"P","y":0.75},{"x":-124.9382,"t":"H","y":0.95},{"x":-124.9382,"t":"S","y":1.0},
{"x":-124.9176,"t":"C","y":0.95},{"x":-124.9176,"t":"A","y":0.95},{"x":-124.9176,"t":"X","y":0.95},{"x":-124.9176,"t":"P","y":0.8},{"x":-124.9176,"t":"H","y":0.98},{"x":-124.9176,"t":"S","y":0.4},
{"x":-124.8977,"t":"C","y":1.2},{"x":-124.8977,"t":"A","y":1.25},{"x":-124.8977,"t":"X","y":0.95},{"x":-124.8977,"t":"P","y":1.4},{"x":-124.8977,"t":"H","y":1.35},{"x":-124.8977,"t":"S","y":1.45},
{"x":-124.8784,"t":"C","y":1.22},{"x":-124.8784,"t":"A","y":1.75},{"x":-124.8784,"t":"X","y":1.5},{"x":-124.8784,"t":"P","y":1.9},{"x":-124.8784,"t":"H","y":3.05},{"x":-124.8784,"t":"S","y":1.6},
{"x":-124.8585,"t":"C","y":3.3},{"x":-124.8585,"t":"A","y":2.95},{"x":-124.8585,"t":"X","y":0.7},{"x":-124.8585,"t":"P","y":3.75},{"x":-124.8585,"t":"H","y":2.3},{"x":-124.8585,"t":"S","y":6.55},
{"x":-124.8379,"t":"C","y":1.0},{"x":-124.8379,"t":"A","y":1.7},{"x":-124.8379,"t":"X","y":1.15},{"x":-124.8379,"t":"P","y":1.7},{"x":-124.8379,"t":"H","y":1.65},{"x":-124.8379,"t":"S","y":2.38},
{"x":-124.8159,"t":"C","y":0.88},{"x":-124.8159,"t":"A","y":1.35},{"x":-124.8159,"t":"X","y":0.75},{"x":-124.8159,"t":"P","y":0.6},{"x":-124.8159,"t":"H","y":0.8},{"x":-124.8159,"t":"S","y":1.45},
{"x":-124.7934,"t":"C","y":0.95},{"x":-124.7934,"t":"A","y":1.1},{"x":-124.7934,"t":"X","y":1.05},{"x":-124.7934,"t":"P","y":0.85},{"x":-124.7934,"t":"H","y":1.05},{"x":-124.7934,"t":"S","y":1.0},
{"x":-124.7701,"t":"C","y":1.2},{"x":-124.7701,"t":"A","y":1.5},{"x":-124.7701,"t":"X","y":1.0},{"x":-124.7701,"t":"P","y":1.45},{"x":-124.7701,"t":"H","y":0.95},{"x":-124.7701,"t":"S","y":0.75},
{"x":-124.7475,"t":"C","y":1.5},{"x":-124.7475,"t":"A","y":1.0},{"x":-124.7475,"t":"X","y":1.25},{"x":-124.7475,"t":"P","y":1.35},{"x":-124.7475,"t":"H","y":0.95},{"x":-124.7475,"t":"S","y":0.55},
{"x":-124.7269,"t":"C","y":1.2},{"x":-124.7269,"t":"A","y":0.6},{"x":-124.7269,"t":"X","y":1.0},{"x":-124.7269,"t":"P","y":0.85},{"x":-124.7269,"t":"H","y":1.23},{"x":-124.7269,"t":"S","y":0.75},
{"x":-124.7037,"t":"C","y":1.0},{"x":-124.7037,"t":"A","y":1.0},{"x":-124.7037,"t":"X","y":1.45},{"x":-124.7037,"t":"P","y":1.4},{"x":-124.7037,"t":"H","y":1.1},{"x":-124.7037,"t":"S","y":1.0},
{"x":-124.6771,"t":"C","y":0.75},{"x":-124.6771,"t":"A","y":0.8},{"x":-124.6771,"t":"X","y":1.1},{"x":-124.6771,"t":"P","y":0.8},{"x":-124.6771,"t":"H","y":1.15},{"x":-124.6771,"t":"S","y":1.55},
{"x":-124.6525,"t":"C","y":1.4},{"x":-124.6525,"t":"A","y":0.95},{"x":-124.6525,"t":"X","y":1.1},{"x":-124.6525,"t":"P","y":2.0},{"x":-124.6525,"t":"H","y":1.95},{"x":-124.6525,"t":"S","y":1.0},
{"x":-124.6272,"t":"C","y":1.35},{"x":-124.6272,"t":"A","y":1.0},{"x":-124.6272,"t":"X","y":1.15},{"x":-124.6272,"t":"P","y":1.3},{"x":-124.6272,"t":"H","y":1.5},{"x":-124.6272,"t":"S","y":2.25},
{"x":-124.6013,"t":"C","y":1.5},{"x":-124.6013,"t":"A","y":1.1},{"x":-124.6013,"t":"X","y":1.05},{"x":-124.6013,"t":"P","y":2.55},{"x":-124.6013,"t":"H","y":1.15},{"x":-124.6013,"t":"S","y":2.4},
{"x":-124.5794,"t":"C","y":1.15},{"x":-124.5794,"t":"A","y":1.2},{"x":-124.5794,"t":"X","y":1.4},{"x":-124.5794,"t":"P","y":1.85},{"x":-124.5794,"t":"H","y":1.4},{"x":-124.5794,"t":"S","y":2.3},
{"x":-124.5615,"t":"C","y":0.7},{"x":-124.5615,"t":"A","y":1.2},{"x":-124.5615,"t":"X","y":0.75},{"x":-124.5615,"t":"P","y":0.9},{"x":-124.5615,"t":"H","y":0.6},{"x":-124.5615,"t":"S","y":0.75}
]
},
"vconcat":[
{"title":{"text":"A"},"width":750,"height":239,
 "layer":[
  {"data":{"name":"A"},"transform":[{"lookup":"t","from":{"data":{"name":"taxa"},"key":"k","fields":["name"]}}],
   "mark":{"type":"point","stroke":"black","strokeWidth":1.1,"opacity":1,"size":110},
   "encoding":{
    "x":{"field":"x","type":"quantitative","scale":{"domain":[46.1226,46.3588],"nice":false,"zero":false},"axis":{"values":[46.15,46.2,46.25,46.3,46.35],"format":".2f","title":"Latitude"}},
    "y":{"field":"y","type":"quantitative","scale":{"domain":[-0.35,7.31],"nice":false},"axis":{"values":[0,1,2,3,4,5,6,7],"tickCount":8,"labelOverlap":false,"format":"d","title":null}},
    "shape":{"field":"name","type":"nominal","scale":{"domain":["Calanoid copepods","Chaetognaths","Hydromedusae","Appendicularians","Ctenophores","Siphonophores"],"range":["circle","M-1,-1L1,1M-1,1L1,-1","M-0.8,-0.8H0.8V0.8H-0.8Z","M0,-1.05L1.05,0.78L-1.05,0.78Z","M-1.2,0H1.2M0,-1.2V1.2","M-1.15,0H1.15M0,-1.15V1.15M-0.82,-0.82L0.82,0.82M-0.82,0.82L0.82,-0.82"]},"legend":{"title":null,"orient":"bottom","direction":"horizontal","columns":3,"encode":{"symbols":{"update":{"stroke":{"value":"black"},"strokeWidth":{"value":1}}}}}},
    "fill":{"field":"name","type":"nominal","scale":{"domain":["Calanoid copepods","Chaetognaths","Hydromedusae","Appendicularians","Ctenophores","Siphonophores"],"range":["black","transparent","transparent","black","transparent","transparent"]},"legend":{"title":null,"orient":"bottom","direction":"horizontal","columns":3,"encode":{"symbols":{"update":{"stroke":{"value":"black"},"strokeWidth":{"value":1}}}}}}
   }},
  {"data":{"values":[{}]},"mark":{"type":"rule","color":"red","strokeDash":[4,3],"strokeWidth":1},"encoding":{"y":{"datum":1,"type":"quantitative","axis":{"values":[0,1,2,3,4,5,6,7],"tickCount":8,"labelOverlap":false,"format":"d","title":null}}}}
 ]},
{"title":{"text":"B"},"width":750,"height":239,
 "layer":[
  {"data":{"name":"B"},"transform":[{"lookup":"t","from":{"data":{"name":"taxa"},"key":"k","fields":["name"]}}],
   "mark":{"type":"point","stroke":"black","strokeWidth":1.1,"opacity":1,"size":110},
   "encoding":{
    "x":{"field":"x","type":"quantitative","scale":{"domain":[46.1274,46.3733],"nice":false,"zero":false},"axis":{"values":[46.15,46.2,46.25,46.3,46.35],"format":".2f","title":"Latitude"}},
    "y":{"field":"y","type":"quantitative","scale":{"domain":[-0.35,7.31],"nice":false},"axis":{"values":[0,1,2,3,4,5,6,7],"tickCount":8,"labelOverlap":false,"format":"d","title":null}},
    "shape":{"field":"name","type":"nominal","scale":{"domain":["Calanoid copepods","Chaetognaths","Hydromedusae","Appendicularians","Ctenophores","Siphonophores"],"range":["circle","M-1,-1L1,1M-1,1L1,-1","M-0.8,-0.8H0.8V0.8H-0.8Z","M0,-1.05L1.05,0.78L-1.05,0.78Z","M-1.2,0H1.2M0,-1.2V1.2","M-1.15,0H1.15M0,-1.15V1.15M-0.82,-0.82L0.82,0.82M-0.82,0.82L0.82,-0.82"]},"legend":{"title":null,"orient":"bottom","direction":"horizontal","columns":3,"encode":{"symbols":{"update":{"stroke":{"value":"black"},"strokeWidth":{"value":1}}}}}},
    "fill":{"field":"name","type":"nominal","scale":{"domain":["Calanoid copepods","Chaetognaths","Hydromedusae","Appendicularians","Ctenophores","Siphonophores"],"range":["black","transparent","transparent","black","transparent","transparent"]},"legend":{"title":null,"orient":"bottom","direction":"horizontal","columns":3,"encode":{"symbols":{"update":{"stroke":{"value":"black"},"strokeWidth":{"value":1}}}}}}
   }},
  {"data":{"values":[{}]},"mark":{"type":"rule","color":"red","strokeDash":[4,3],"strokeWidth":1},"encoding":{"y":{"datum":1,"type":"quantitative","axis":{"values":[0,1,2,3,4,5,6,7],"tickCount":8,"labelOverlap":false,"format":"d","title":null}}}}
 ]},
{"title":{"text":"C"},"width":750,"height":239,
 "layer":[
  {"data":{"name":"C"},"transform":[{"lookup":"t","from":{"data":{"name":"taxa"},"key":"k","fields":["name"]}}],
   "mark":{"type":"point","stroke":"black","strokeWidth":1.1,"opacity":1,"size":110},
   "encoding":{
    "x":{"field":"x","type":"quantitative","scale":{"domain":[-124.5633,-124.279],"nice":false,"zero":false},"axis":{"values":[-124.5,-124.4,-124.3],"format":".1f","title":"Longitude"}},
    "y":{"field":"y","type":"quantitative","scale":{"domain":[-0.35,7.31],"nice":false},"axis":{"values":[0,1,2,3,4,5,6,7],"tickCount":8,"labelOverlap":false,"format":"d","title":null}},
    "shape":{"field":"name","type":"nominal","scale":{"domain":["Calanoid copepods","Chaetognaths","Hydromedusae","Appendicularians","Ctenophores","Siphonophores"],"range":["circle","M-1,-1L1,1M-1,1L1,-1","M-0.8,-0.8H0.8V0.8H-0.8Z","M0,-1.05L1.05,0.78L-1.05,0.78Z","M-1.2,0H1.2M0,-1.2V1.2","M-1.15,0H1.15M0,-1.15V1.15M-0.82,-0.82L0.82,0.82M-0.82,0.82L0.82,-0.82"]},"legend":{"title":null,"orient":"bottom","direction":"horizontal","columns":3,"encode":{"symbols":{"update":{"stroke":{"value":"black"},"strokeWidth":{"value":1}}}}}},
    "fill":{"field":"name","type":"nominal","scale":{"domain":["Calanoid copepods","Chaetognaths","Hydromedusae","Appendicularians","Ctenophores","Siphonophores"],"range":["black","transparent","transparent","black","transparent","transparent"]},"legend":{"title":null,"orient":"bottom","direction":"horizontal","columns":3,"encode":{"symbols":{"update":{"stroke":{"value":"black"},"strokeWidth":{"value":1}}}}}}
   }},
  {"data":{"values":[{}]},"mark":{"type":"rule","color":"red","strokeDash":[4,3],"strokeWidth":1},"encoding":{"y":{"datum":1,"type":"quantitative","axis":{"values":[0,1,2,3,4,5,6,7],"tickCount":8,"labelOverlap":false,"format":"d","title":null}}}}
 ]},
{"title":{"text":"D"},"width":750,"height":259,
 "layer":[
  {"data":{"name":"D"},"transform":[{"lookup":"t","from":{"data":{"name":"taxa"},"key":"k","fields":["name"]}}],
   "mark":{"type":"point","stroke":"black","strokeWidth":1.1,"opacity":1,"size":110},
   "encoding":{
    "x":{"field":"x","type":"quantitative","scale":{"domain":[-125.0419,-124.5435],"nice":false,"zero":false},"axis":{"values":[-125.0,-124.9,-124.8,-124.7,-124.6],"format":".1f","title":"Longitude"}},
    "y":{"field":"y","type":"quantitative","scale":{"domain":[-0.35,7.31],"nice":false},"axis":{"values":[0,1,2,3,4,5,6,7],"tickCount":8,"labelOverlap":false,"format":"d","title":null}},
    "shape":{"field":"name","type":"nominal","scale":{"domain":["Calanoid copepods","Chaetognaths","Hydromedusae","Appendicularians","Ctenophores","Siphonophores"],"range":["circle","M-1,-1L1,1M-1,1L1,-1","M-0.8,-0.8H0.8V0.8H-0.8Z","M0,-1.05L1.05,0.78L-1.05,0.78Z","M-1.2,0H1.2M0,-1.2V1.2","M-1.15,0H1.15M0,-1.15V1.15M-0.82,-0.82L0.82,0.82M-0.82,0.82L0.82,-0.82"]},"legend":{"title":null,"orient":"bottom","direction":"horizontal","columns":3,"encode":{"symbols":{"update":{"stroke":{"value":"black"},"strokeWidth":{"value":1}}}}}},
    "fill":{"field":"name","type":"nominal","scale":{"domain":["Calanoid copepods","Chaetognaths","Hydromedusae","Appendicularians","Ctenophores","Siphonophores"],"range":["black","transparent","transparent","black","transparent","transparent"]},"legend":{"title":null,"orient":"bottom","direction":"horizontal","columns":3,"encode":{"symbols":{"update":{"stroke":{"value":"black"},"strokeWidth":{"value":1}}}}}}
   }},
  {"data":{"values":[{}]},"mark":{"type":"rule","color":"red","strokeDash":[4,3],"strokeWidth":1},"encoding":{"y":{"datum":1,"type":"quantitative","axis":{"values":[0,1,2,3,4,5,6,7],"tickCount":8,"labelOverlap":false,"format":"d","title":null}}}}
 ]}
],
"config":{
 "font":"Liberation Sans",
 "view":{"stroke":"#333333","strokeWidth":1},
 "axis":{"grid":false,"domain":false,"tickColor":"#333333","tickSize":4,"labelColor":"#4D4D4D","labelFontSize":22.5,"labelPadding":2,"labelOverlap":false,"titleFontSize":23,"titleFontWeight":"normal","titleColor":"black","titlePadding":1},
 "title":{"anchor":"start","fontSize":22,"fontWeight":"bold","color":"black","offset":6},
 "legend":{"labelFontSize":21.5,"labelColor":"black","labelLimit":400,"symbolSize":50,"symbolStrokeWidth":1,"columnPadding":6,"rowPadding":2,"labelOffset":12,"offset":9,"layout":{"bottom":{"anchor":"middle"}}}
}
}
